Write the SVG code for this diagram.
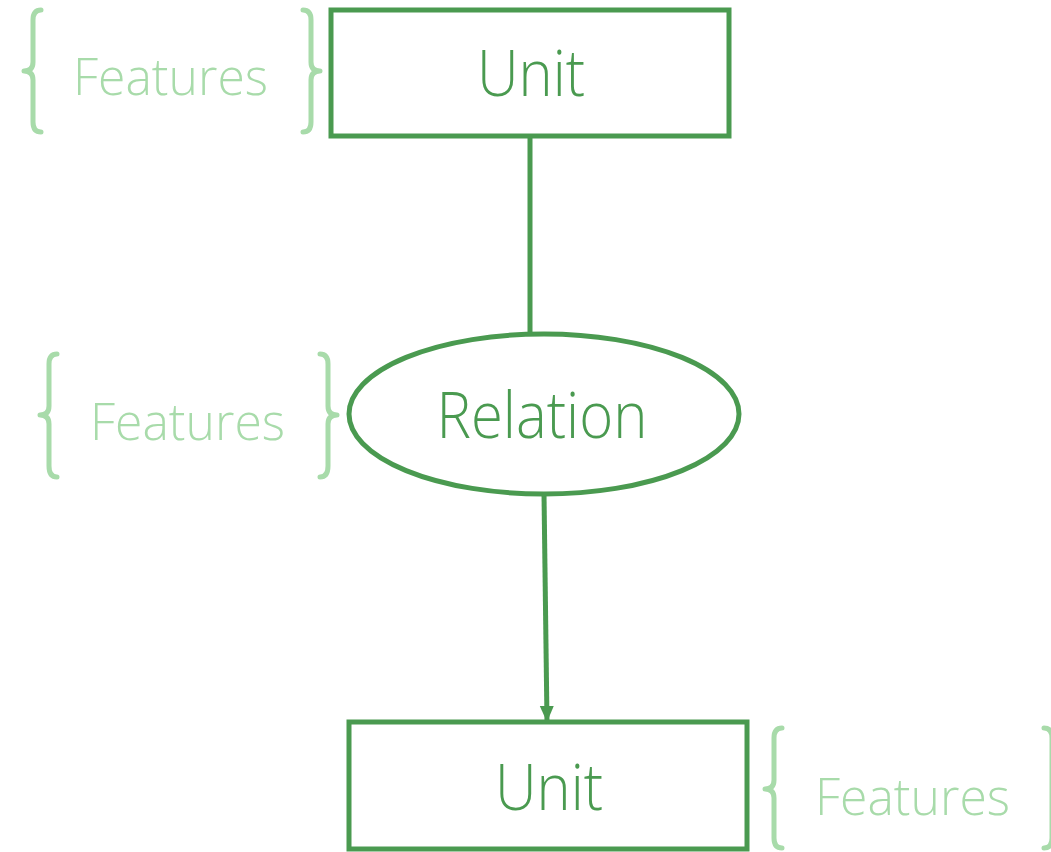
<svg xmlns="http://www.w3.org/2000/svg" width="1051" height="852" viewBox="0 0 1051 852">
<defs>
<style>
.box{fill:#fff;stroke:#4a9a50;stroke-width:5}
.conn{stroke:#4a9a50;stroke-width:5;fill:none}
.lbl{font-family:"Open Sans","Noto Sans","Liberation Sans",sans-serif;font-weight:300;fill:#4a9a50;font-size:64px;text-anchor:middle}
.feat{font-family:"Open Sans","Noto Sans","Liberation Sans",sans-serif;font-weight:300;fill:#a8dbaa;font-size:52px}
.brace{stroke:#a8dbaa;stroke-width:5;fill:none;stroke-linecap:round;stroke-linejoin:round}
</style>
<marker id="arrow" viewBox="0 0 16 16" refX="16" refY="8" markerWidth="16" markerHeight="16" orient="auto" markerUnits="userSpaceOnUse">
<path d="M0,1 L16,8 L0,15 z" fill="#4a9a50"/>
</marker>
</defs>
<rect width="1051" height="852" fill="#fff"/>
<g id="connectors">
<line class="conn" x1="530" y1="136" x2="530" y2="335"/>
<line class="conn" x1="544" y1="494" x2="547" y2="722" marker-end="url(#arrow)"/>
</g>
<g id="unit-top">
<rect class="box" x="331" y="10" width="398" height="126"/>
<text class="lbl" x="531" y="96" textLength="108" lengthAdjust="spacingAndGlyphs">Unit</text>
</g>
<g id="relation">
<ellipse class="box" cx="544" cy="414" rx="195" ry="80"/>
<text class="lbl" x="542" y="438" textLength="211" lengthAdjust="spacingAndGlyphs">Relation</text>
</g>
<g id="unit-bottom">
<rect class="box" x="349" y="722" width="398" height="127"/>
<text class="lbl" x="549" y="810" textLength="108" lengthAdjust="spacingAndGlyphs">Unit</text>
</g>
<g id="features-top">
<path class="brace" d="M41,10 Q33,10 33,20 L33,62 Q33,71 24,71 Q33,71 33,80 L33,122 Q33,132 41,132"/>
<text class="feat" x="73" y="95" textLength="195" lengthAdjust="spacingAndGlyphs">Features</text>
<path class="brace" d="M303,10 Q311,10 311,20 L311,62 Q311,71 320,71 Q311,71 311,80 L311,122 Q311,132 303,132"/>
</g>
<g id="features-mid">
<path class="brace" d="M57,354 Q49,354 49,364 L49,406 Q49,415 40,415 Q49,415 49,424 L49,466 Q49,477 57,477"/>
<text class="feat" x="90" y="440" textLength="195" lengthAdjust="spacingAndGlyphs">Features</text>
<path class="brace" d="M320,354 Q328,354 328,364 L328,406 Q328,415 337,415 Q328,415 328,424 L328,466 Q328,477 320,477"/>
</g>
<g id="features-bottom">
<path class="brace" d="M782,728 Q774,728 774,738 L774,780 Q774,789 765,789 Q774,789 774,798 L774,838 Q774,848 782,848"/>
<text class="feat" x="815" y="815" textLength="195" lengthAdjust="spacingAndGlyphs">Features</text>
<path class="brace" d="M1044,728 Q1052,728 1052,738 L1052,838 Q1052,848 1044,848"/>
</g>
</svg>
